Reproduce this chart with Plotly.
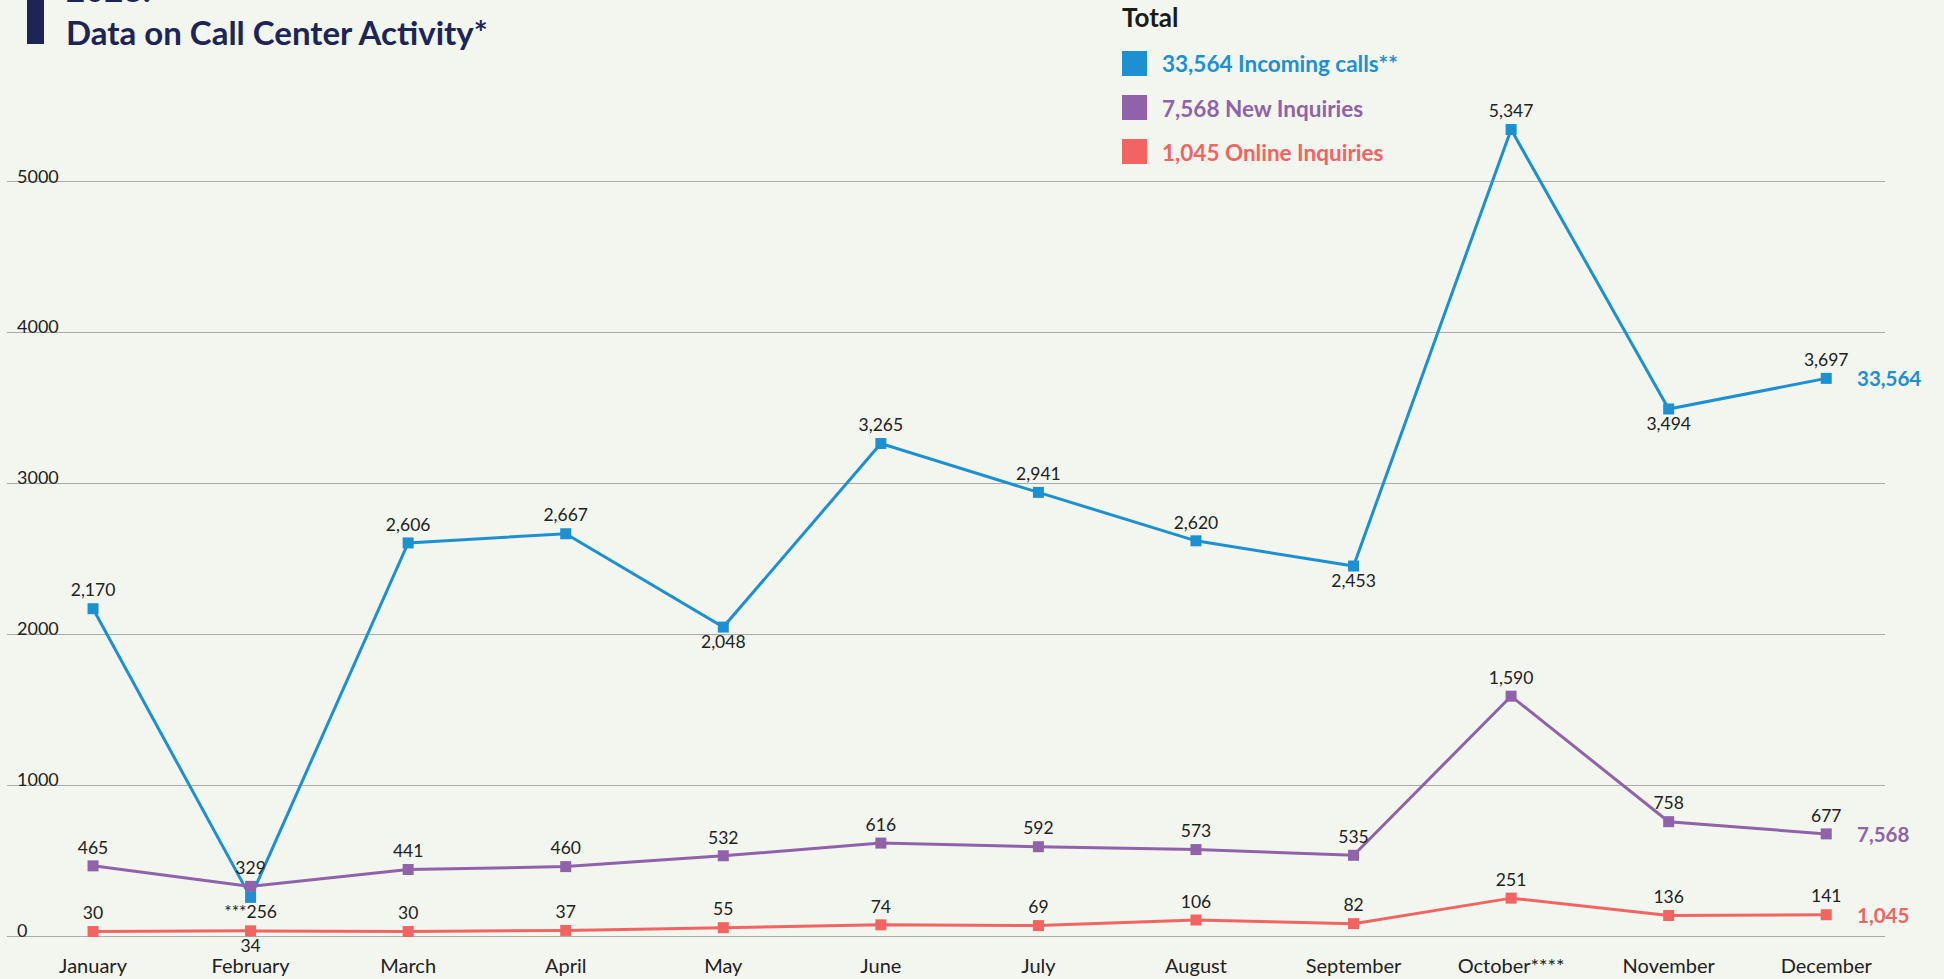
"""2023 call center activity: monthly incoming calls, new and online inquiries."""
import plotly.graph_objects as go

# --------------------------------------------------------------------------
# Data
# --------------------------------------------------------------------------
months = ["January", "February", "March", "April", "May", "June", "July",
          "August", "September", "October****", "November", "December"]

incoming_calls = [2170, 256, 2606, 2667, 2048, 3265, 2941, 2620, 2453, 5347, 3494, 3697]
new_inquiries = [465, 329, 441, 460, 532, 616, 592, 573, 535, 1590, 758, 677]
online_inquiries = [30, 34, 30, 37, 55, 74, 69, 106, 82, 251, 136, 141]

# footnote markers glued to single point labels
incoming_prefix = {1: "***"}

# label placement per point (above unless noted)
incoming_pos = ["top center", "bottom center", "top center", "top center", "bottom center",
                "top center", "top center", "top center", "bottom center", "top center",
                "bottom center", "top center"]
online_pos = ["top center", "bottom center"] + ["top center"] * 10

y_ticks = [0, 1000, 2000, 3000, 4000, 5000]

# --------------------------------------------------------------------------
# Styling
# --------------------------------------------------------------------------
W, H = 1944, 979
M_L, M_R, M_T, M_B = 7, 59, 31, 43
BG = "#f3f5ef"
GRID = "#ababab"
TEXT = "#222222"
NAVY = "#1c2556"
BLUE = "#1d90d2"
PURPLE = "#8f62aa"
RED = "#f26462"
FONT = "Lato, 'Open Sans', sans-serif"

# drop the default page margin so the figure fills the window edge to edge
PAGE_JS = ("document.body.style.margin='0';"
           f"document.body.style.background='{BG}';")


def px_x(px):
    """Window pixel -> paper x."""
    return (px - M_L) / (W - M_L - M_R)


def px_y(px):
    """Window pixel (from top) -> paper y."""
    return (H - M_B - px) / (H - M_T - M_B)


def labels(values, prefix=None):
    prefix = prefix or {}
    return [f"{prefix.get(i, '')}{v:,}" for i, v in enumerate(values)]


series = [
    ("Incoming calls**", incoming_calls, BLUE, incoming_pos, incoming_prefix),
    ("New Inquiries", new_inquiries, PURPLE, ["top center"] * 12, None),
    ("Online Inquiries", online_inquiries, RED, online_pos, None),
]

fig = go.Figure()
for name, vals, color, pos, prefix in series:
    fig.add_trace(go.Scatter(
        x=months, y=vals, name=name, mode="lines+markers+text",
        line=dict(color=color, width=3),
        marker=dict(symbol="square", size=11, color=color),
        text=labels(vals, prefix), textposition=pos,
        textfont=dict(family=FONT, size=17.5, color=TEXT),
        cliponaxis=False, showlegend=False,
    ))

# totals at the right end of each line
for name, vals, color, _, _ in series:
    fig.add_annotation(x=months[-1], y=vals[-1], text=f"<b>{sum(vals):,}</b>",
                       showarrow=False, xanchor="left", xshift=29,
                       font=dict(family=FONT, size=20.5, color=color))

# legend block ("Total")
fig.add_annotation(xref="paper", yref="paper", x=px_x(1120), y=px_y(17),
                   text="<b>Total</b>", showarrow=False, xanchor="left", yanchor="middle",
                   font=dict(family=FONT, size=26, color="#1a1a1a"))
for i, (name, vals, color, _, _) in enumerate(series):
    top = 51 + 44 * i
    fig.add_shape(type="rect", xref="paper", yref="paper",
                  x0=px_x(1122), x1=px_x(1147), y0=px_y(top + 25), y1=px_y(top),
                  fillcolor=color, line=dict(width=0))
    fig.add_annotation(xref="paper", yref="paper", x=px_x(1160), y=px_y(top + 13),
                       text=f"<b>{sum(vals):,} {name}</b>", showarrow=False,
                       xanchor="left", yanchor="middle",
                       font=dict(family=FONT, size=22.5, color=color))

# title with its accent bar (first line runs off the top edge)
fig.add_shape(type="rect", xref="paper", yref="paper",
              x0=px_x(27), x1=px_x(44), y0=px_y(44), y1=px_y(-2),
              fillcolor=NAVY, line=dict(width=0))
fig.add_annotation(xref="paper", yref="paper", x=px_x(64), y=px_y(-11),
                   text="<b>2023:</b>", showarrow=False, xanchor="left", yanchor="middle",
                   font=dict(family=FONT, size=33, color=NAVY))
fig.add_annotation(xref="paper", yref="paper", x=px_x(64), y=px_y(32),
                   text="<b>Data on Call Center Activity*</b>", showarrow=False,
                   xanchor="left", yanchor="middle",
                   font=dict(family=FONT, size=33, color=NAVY))

fig.update_layout(
    width=W, height=H,
    margin=dict(l=M_L, r=M_R, t=M_T, b=M_B, autoexpand=False),
    paper_bgcolor=BG, plot_bgcolor=BG,
    font=dict(family=FONT, size=17, color=TEXT),
    xaxis=dict(type="category", range=[-0.546, 11.373], showgrid=False, zeroline=False,
               showline=False, ticks="", ticklabelstandoff=16,
               tickfont=dict(family=FONT, size=20, color=TEXT)),
    yaxis=dict(range=[0, 6000], tickvals=y_ticks, ticktext=[str(v) for v in y_ticks],
               showgrid=True, gridcolor=GRID, gridwidth=1,
               zeroline=True, zerolinecolor=GRID, zerolinewidth=1,
               showline=False, ticks="", ticklabelposition="inside top",
               ticklabeloverflow="allow", ticklabelstandoff=7, ticklabelshift=7,
               tickfont=dict(family=FONT, size=18, color=TEXT)),
)

fig.write_html("out.html", post_script=PAGE_JS, config={"displayModeBar": False})
